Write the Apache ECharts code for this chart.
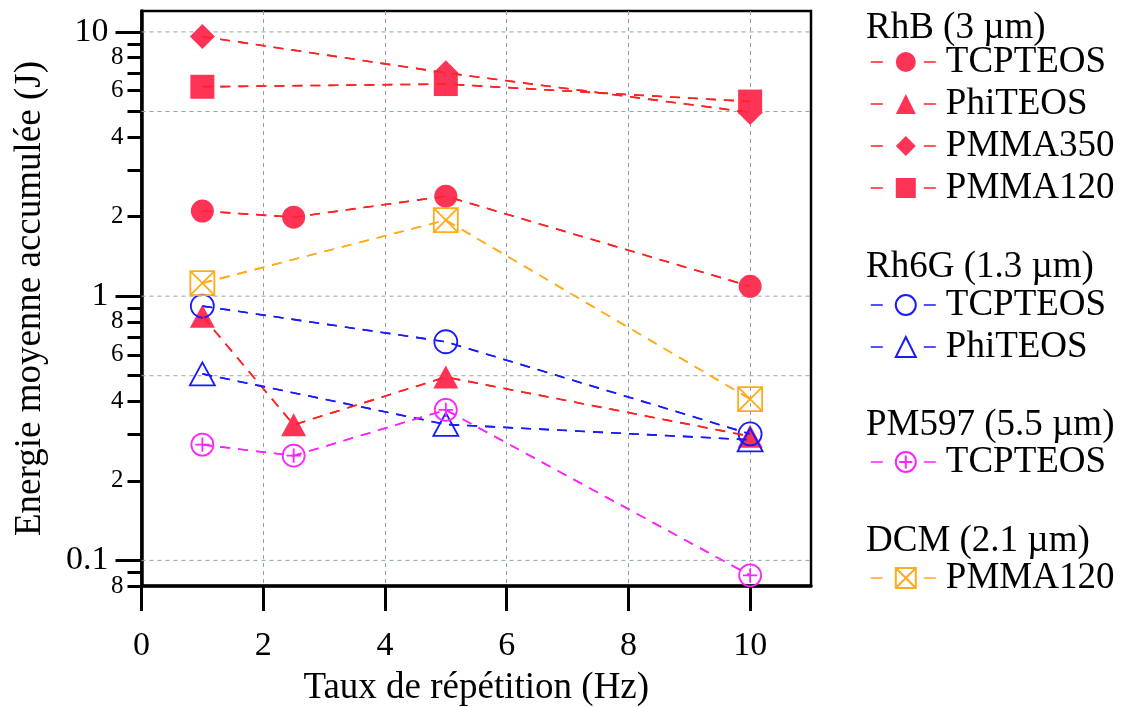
<!DOCTYPE html>
<html><head><meta charset="utf-8">
<script src="https://cdn.jsdelivr.net/npm/echarts@6/dist/echarts.min.js"></script>
<style>html,body{margin:0;padding:0;background:#fff}#c{width:1137px;height:707px}</style>
</head><body><div id="c"></div>
<script>
// ---- data ----
const xValues = [1, 2.5, 5, 10];
const rhbTcpteos  = [2.10, 1.99, 2.39, 1.09];
const rhbPhiteos  = [0.84, 0.326, 0.494, 0.295];
const rhbPmma350  = [9.6, null, 7.0, 4.96];
const rhbPmma120  = [6.2, null, 6.35, 5.45];
const rh6gTcpteos = [0.917, null, 0.672, 0.301];
const rh6gPhiteos = [0.508, null, 0.327, 0.286];
const pm597Tcpteos = [0.274, 0.249, 0.371, 0.0878];
const dcmPmma120  = [1.12, null, 1.94, 0.408];

const groupTitles = ['RhB (3 µm)', 'Rh6G (1.3 µm)', 'PM597 (5.5 µm)', 'DCM (2.1 µm)'];
const xAxisTitle = 'Taux de répétition (Hz)';
const yAxisTitle = 'Energie moyenne accumulée (J)';
const xTickValues = [0, 2, 4, 6, 8, 10];
const yMajorTicks = [0.1, 1, 10];
const yMinorTicks = [0.08, 0.09, 0.2, 0.3, 0.4, 0.5, 0.6, 0.7, 0.8, 0.9, 2, 3, 4, 5, 6, 7, 8, 9];
const yMinorLabels = [0.08, 0.2, 0.4, 0.6, 0.8, 2, 4, 6, 8];
const yGridLines = [0.1, 0.5, 1, 5, 10];

// ---- styles ----
const FONT = '"Liberation Serif", "Times New Roman", serif';
const RED_FILL = '#ff3355', RED = '#ff2222', BLUE = '#1a1aff', MAG = '#ff22ff', ORANGE = '#ffab1a';
const GRID_C = '#8fa3a7';
const CIRCLE_PLUS = 'path://M10,0 A10,10 0 1 1 10,20 A10,10 0 1 1 10,0 Z M10,3.5 L10,16.5 M3.5,10 L16.5,10';
const SQUARE_X = 'path://M0,0 L20,0 L20,20 L0,20 Z M0,0 L20,20 M20,0 L0,20';
const CLEAR = 'rgba(0,0,0,0)';
const LFS = 37;

function pts(arr) {
  const out = [];
  arr.forEach((v, i) => { if (v != null) out.push([xValues[i], v]); });
  return out;
}
function mk(name, arr, symbol, size, lineColor, itemStyle) {
  return [{
    type: 'line', name, data: pts(arr), symbol, symbolSize: size, showSymbol: true,
    z: 2, lineStyle: { color: lineColor, width: 1.6, type: [10, 8] },
    itemStyle, emphasis: { disabled: true }, animation: false
  }, {
    type: 'line', name: name + '_overlay', data: pts(arr), symbol: 'none', silent: true,
    z: 3, lineStyle: { color: lineColor, width: 1.6, type: [10, 8] },
    emphasis: { disabled: true }, animation: false, tooltip: { show: false }
  }];
}
const filled = { color: RED_FILL, borderWidth: 0 };
const open = c => ({ color: CLEAR, borderColor: c, borderWidth: 1.8 });

const series = [].concat(
  mk('RhB|TCPTEOS', rhbTcpteos, 'circle', 23, RED, filled),
  mk('RhB|PhiTEOS', rhbPhiteos, 'triangle', [25, 23], RED, filled),
  mk('RhB|PMMA350', rhbPmma350, 'diamond', 25, RED, filled),
  mk('RhB|PMMA120', rhbPmma120, 'rect', 24, RED, filled),
  mk('Rh6G|TCPTEOS', rh6gTcpteos, 'circle', 23, BLUE, open(BLUE)),
  mk('Rh6G|PhiTEOS', rh6gPhiteos, 'triangle', [25, 23], BLUE, open(BLUE)),
  mk('PM597|TCPTEOS', pm597Tcpteos, CIRCLE_PLUS, 22, MAG, open(MAG)),
  mk('DCM|PMMA120', dcmPmma120, SQUARE_X, 24, ORANGE, open(ORANGE))
);
series.push({
  type: 'custom', name: 'hgrid', silent: true, z: 1, animation: false,
  data: yGridLines.map(v => [0, v]),
  renderItem(params, api) {
    const p = api.coord([0, api.value(1)]);
    const cs = params.coordSys;
    return { type: 'line', shape: { x1: cs.x, y1: p[1], x2: cs.x + cs.width, y2: p[1] },
      style: { stroke: GRID_C, lineWidth: 1, lineDash: [4, 4] } };
  }
});

const legendBase = {
  orient: 'vertical', left: 870, padding: 0, itemWidth: 70, itemHeight: 25, itemGap: 5,
  selectedMode: false, formatter: n => n.split('|')[1],
  textStyle: { fontFamily: FONT, fontSize: LFS, color: '#000', lineHeight: LFS },
  lineStyle: { type: [12, 41], width: 1.6 }
};
const headerY = [28, 267, 425, 541];
const firstItemY = [62, 305, 462, 578];
const legendGroups = [
  ['RhB|TCPTEOS', 'RhB|PhiTEOS', 'RhB|PMMA350', 'RhB|PMMA120'],
  ['Rh6G|TCPTEOS', 'Rh6G|PhiTEOS'],
  ['PM597|TCPTEOS'],
  ['DCM|PMMA120']
];
const legends = legendGroups.map((g, i) => Object.assign({}, legendBase, { top: firstItemY[i] - LFS / 2, data: g }));

const mantissa = v => String(Math.round(v / Math.pow(10, Math.floor(Math.log10(v) + 1e-9))));
const yBase = { type: 'log', logBase: 10, min: 0.08, max: 12, position: 'left', gridIndex: 0 };

const option = {
  animation: false,
  grid: { left: 141.5, right: 326, top: 11, bottom: 121, show: true, borderColor: '#000', borderWidth: 2.5, outerBoundsMode: 'none' },
  legend: legends,
  graphic: groupTitles.map((t, i) => ({
    type: 'text', left: 866, top: headerY[i] - LFS / 2,
    style: { text: t, font: LFS + 'px ' + FONT, fill: '#000' }
  })),
  xAxis: {
    type: 'value', min: 0, max: 11, interval: 2,
    axisLine: { lineStyle: { color: '#000', width: 3.5 } },
    axisTick: { length: 25, lineStyle: { color: '#000', width: 3 }, customValues: xTickValues },
    axisLabel: { customValues: xTickValues, margin: 43, fontFamily: FONT, fontSize: 34, color: '#000' },
    splitLine: { show: true, lineStyle: { color: GRID_C, width: 1, type: [4, 4] } },
    name: xAxisTitle, nameLocation: 'middle', nameGap: 84,
    nameTextStyle: { fontFamily: FONT, fontSize: LFS, color: '#000' }
  },
  yAxis: [
    Object.assign({}, yBase, {
      axisLine: { show: true, lineStyle: { color: '#000', width: 3.5 } },
      axisTick: { show: true, length: 26, lineStyle: { color: '#000', width: 3 }, customValues: yMajorTicks },
      axisLabel: { customValues: yMajorTicks, margin: 33, fontFamily: FONT, fontSize: 34, color: '#000',
        formatter: v => String(+(+v).toPrecision(3)) },
      splitLine: { show: false },
      name: yAxisTitle, nameLocation: 'middle', nameGap: 93, nameRotate: 90,
      nameTextStyle: { fontFamily: FONT, fontSize: LFS, color: '#000' }
    }),
    Object.assign({}, yBase, {
      axisLine: { show: false },
      axisTick: { show: true, length: 14, lineStyle: { color: '#000', width: 3 }, customValues: yMinorTicks },
      axisLabel: { customValues: yMinorLabels, margin: 18, fontFamily: FONT, fontSize: 25, color: '#000',
        formatter: v => mantissa(+v) },
      splitLine: { show: false }
    })
  ],
  series
};
const chart = echarts.init(document.getElementById('c'));
chart.setOption(option);
</script></body></html>
